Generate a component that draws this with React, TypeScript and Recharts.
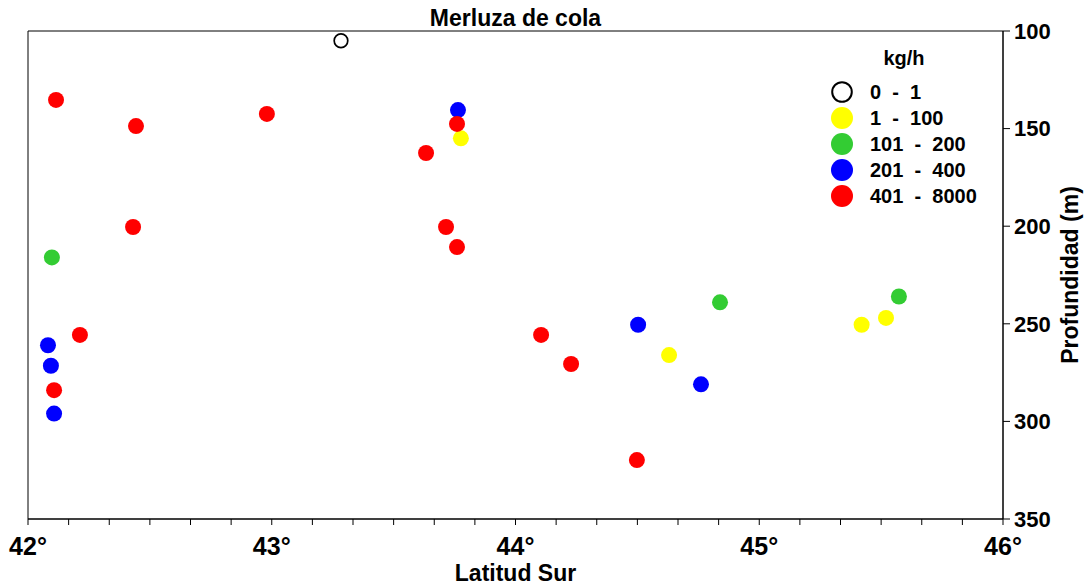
import React from 'react';
import { ScatterChart, Scatter, XAxis, YAxis, ReferenceArea } from 'recharts';

const categories = ['0  -  1', '1  -  100', '101  -  200', '201  -  400', '401  -  8000'];
const colors = ['#ffffff', '#ffff00', '#33cc33', '#0000ff', '#ff0000'];
const strokes = ['#000000', 'none', 'none', 'none', 'none'];

// latitude (°S) and depth (m) per catch category
const lat0 = [43.284];
const dep0 = [105];
const lat1 = [43.776, 44.63, 45.42, 45.52];
const dep1 = [155, 266, 250.5, 247];
const lat2 = [42.098, 44.839, 45.573];
const dep2 = [216, 239, 236];
const lat3 = [43.764, 44.503, 44.761, 42.082, 42.094, 42.107];
const dep3 = [140.5, 250.5, 281, 261, 271.5, 296];
const lat4 = [42.115, 42.443, 42.98, 43.76, 43.633, 42.431, 43.715, 43.76, 44.105, 44.228, 44.498, 42.213, 42.107];
const dep4 = [135.3, 148.7, 142.5, 147.6, 162.5, 200.4, 200.4, 210.7, 255.7, 270.6, 319.8, 255.7, 284];

const lats = [lat0, lat1, lat2, lat3, lat4];
const deps = [dep0, dep1, dep2, dep3, dep4];

const yTicks = [100, 150, 200, 250, 300, 350];
const xMinorStep = 1 / 6;

const xAllTicks: number[] = [];
for (let i = 0; i <= 24; i++) xAllTicks.push(42 + i * xMinorStep);

const FONT = "'Liberation Sans', Arial, sans-serif";

const series = categories.map((c, i) => ({
  name: c,
  color: colors[i],
  stroke: strokes[i],
  data: lats[i].map((x, j) => ({ lat: x, depth: deps[i][j] })),
}));

const XTick = (props: any) => {
  const { x, y, payload } = props;
  const v = payload.value as number;
  const major = Math.abs(v - Math.round(v)) < 1e-6;
  return (
    <g>
      <line x1={x} x2={x} y1={y} y2={y + 6} stroke="#000" strokeWidth={1} />
      {major && (
        <text x={x} y={y + 36} textAnchor="middle" fontFamily={FONT} fontWeight="bold" fontSize={25} fill="#000">
          {Math.round(v)}°
        </text>
      )}
    </g>
  );
};

const makeShape = (fill: string, stroke: string) => (props: any) => {
  const { cx, cy } = props;
  if (cx == null || cy == null) return <g />;
  const open = stroke !== 'none';
  return (
    <circle cx={cx} cy={cy} r={open ? 6.8 : 8} fill={fill} stroke={open ? stroke : 'none'} strokeWidth={open ? 1.7 : 0} />
  );
};

export default function App() {
  return (
    <div style={{ position: 'absolute', left: 0, top: 0, width: 1085, height: 586, background: '#fff' }}>
      <div
        style={{
          position: 'absolute', left: 28, width: 975, top: 5, textAlign: 'center',
          fontFamily: FONT, fontWeight: 'bold', fontSize: 23, color: '#000', lineHeight: '26px',
        }}
      >
        Merluza de cola
      </div>
      <ScatterChart width={1085} height={586} margin={{ top: 31, right: 0, bottom: 0, left: 28 }}>
        <XAxis
          type="number"
          dataKey="lat"
          domain={[42, 46]}
          ticks={xAllTicks}
          interval={0}
          allowDataOverflow
          height={67}
          tickSize={0}
          tickMargin={0}
          tickLine={false}
          axisLine={{ stroke: '#000', strokeWidth: 1 }}
          tick={<XTick />}
          label={(p: any) => {
            const vb = p.viewBox || {};
            return (
              <text x={vb.x + vb.width / 2} y={vb.y + 62} textAnchor="middle" fontFamily={FONT} fontWeight="bold" fontSize={23} fill="#000">
                Latitud Sur
              </text>
            );
          }}
        />
        <YAxis
          type="number"
          dataKey="depth"
          orientation="right"
          reversed
          domain={[100, 350]}
          ticks={yTicks}
          interval={0}
          allowDataOverflow
          width={82}
          tickSize={7}
          tickMargin={4}
          tickLine={{ stroke: '#000' }}
          axisLine={{ stroke: '#000', strokeWidth: 1 }}
          tick={{ fill: '#000', fontFamily: FONT, fontWeight: 'bold', fontSize: 22 }}
          label={(p: any) => {
            const vb = p.viewBox || {};
            const cx = vb.x + 67;
            const cy = vb.y + vb.height / 2;
            return (
              <text x={cx} y={cy} transform={`rotate(-90 ${cx} ${cy})`} textAnchor="middle" dominantBaseline="central" fontFamily={FONT} fontWeight="bold" fontSize={23} fill="#000">
                Profundidad (m)
              </text>
            );
          }}
        />
        <ReferenceArea x1={42} x2={46} y1={100} y2={350} fill="none" fillOpacity={0} stroke="#000" strokeWidth={1} ifOverflow="visible" />
        {series.map((s) => (
          <Scatter
            key={s.name}
            name={s.name}
            data={s.data}
            fill={s.color}
            isAnimationActive={false}
            shape={makeShape(s.color, s.stroke)}
          />
        ))}
      </ScatterChart>
      <div style={{ position: 'absolute', left: 828, top: 46, fontFamily: FONT, fontWeight: 'bold', color: '#000' }}>
        <div style={{ position: 'absolute', left: 36, top: 0, width: 80, textAlign: 'center', fontSize: 20, lineHeight: '24px' }}>kg/h</div>
        {series.map((s, i) => (
          <div key={s.name} style={{ position: 'absolute', left: 0, top: 34 + i * 26, height: 24, width: 200, display: 'flex', alignItems: 'center' }}>
            <svg width={26} height={24} style={{ display: 'block' }}>
              <circle cx={14} cy={12} r={s.stroke !== 'none' ? 9.8 : 11} fill={s.color} stroke={s.stroke !== 'none' ? s.stroke : 'none'} strokeWidth={2} />
            </svg>
            <span style={{ marginLeft: 16, fontSize: 20, whiteSpace: 'pre', lineHeight: '24px' }}>{s.name}</span>
          </div>
        ))}
      </div>
    </div>
  );
}
